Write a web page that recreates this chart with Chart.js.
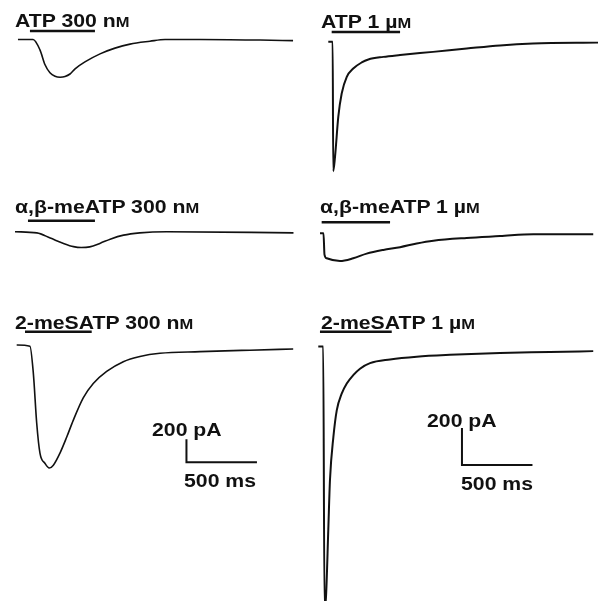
<!DOCTYPE html>
<html>
<head>
<meta charset="utf-8">
<script src="https://cdn.jsdelivr.net/npm/chart.js@4.4.1/dist/chart.umd.min.js"></script>
<style>
  html, body { margin: 0; padding: 0; background: #fff; }
  #wrap { position: relative; width: 600px; height: 601px; overflow: hidden; }
  #traces { position: absolute; left: 0; top: 0; }
  .label {
    position: absolute;
    font-family: "Liberation Sans", Arial, sans-serif;
    font-weight: bold;
    font-size: 18px;
    line-height: 18px;
    color: #111;
    white-space: nowrap;
    transform: scaleX(1.18);
    transform-origin: 0 0;
  }
  .sc { font-size: 14px; }
</style>
</head>
<body>
<div id="wrap">
  <canvas id="traces" width="600" height="601"></canvas>
  <div class="label" style="left:15px;top:11.6px">ATP 300 n<span class="sc">M</span></div>
  <div class="label" style="left:320.7px;top:12.6px">ATP 1 µ<span class="sc">M</span></div>
  <div class="label" style="left:15px;top:197.6px">α,β-meATP 300 n<span class="sc">M</span></div>
  <div class="label" style="left:320px;top:197.6px">α,β-meATP 1 µ<span class="sc">M</span></div>
  <div class="label" style="left:15px;top:314.3px">2-meSATP 300 n<span class="sc">M</span></div>
  <div class="label" style="left:320.7px;top:314.3px">2-meSATP 1 µ<span class="sc">M</span></div>
  <div class="label" style="left:151.7px;top:420.6px">200 pA</div>
  <div class="label" style="left:184px;top:471.6px">500 ms</div>
  <div class="label" style="left:426.7px;top:411.6px">200 pA</div>
  <div class="label" style="left:461px;top:475px">500 ms</div>
</div>
<script>
"use strict"

// ---------- traces: time (ms) and current (pA) ----------
const timeAtp300 = [21, 128, 177, 213, 248, 284, 320, 355, 390, 426, 496, 603, 709, 816, 957, 1064, 1312, 1738, 1972];
const currentAtp300 = [0, 0, -90, -220, -290, -320, -328, -322, -300, -255, -195, -125, -75, -40, -15, 0, 0, -5, -10];

const timeAtp1 = [73, 104, 108, 121, 144, 168, 204, 250, 310, 357, 463, 582, 816, 1055, 1291, 1525, 1986];
const currentAtp1 = [0, 0, -700, -620, -405, -280, -190, -145, -112, -96, -82, -72, -55, -37, -20, -10, -5];

const timeMeAtp300 = [0, 155, 250, 340, 415, 470, 530, 605, 675, 770, 885, 1075, 1975];
const currentMeAtp300 = [0, -10, -55, -100, -130, -138, -132, -100, -65, -30, -10, 0, -10];

const timeMeAtp1 = [14, 39, 46, 62, 156, 250, 345, 463, 582, 700, 818, 1055, 1291, 1527, 1952];
const currentMeAtp1 = [0, 0, -115, -135, -150, -135, -110, -90, -75, -55, -40, -25, -15, -5, -5];

const timeMeSAtp300 = [12, 106, 130, 154, 177, 213, 243, 272, 319, 367, 413, 484, 555, 650, 768, 886, 1028, 1312, 1666, 1973];
const currentMeSAtp300 = [0, -10, -245, -680, -940, -1030, -1070, -1045, -940, -800, -655, -460, -335, -230, -145, -100, -72, -58, -45, -35];

const timeMeSAtp1 = [2, 37, 46, 57, 73, 85, 109, 133, 168, 204, 250, 298, 369, 511, 700, 936, 1291, 1645, 1952];
const currentMeSAtp1 = [0, 0, -1400, -1350, -990, -720, -490, -345, -255, -200, -155, -120, -90, -70, -55, -45, -35, -30, -25];

// agonist application (start, end) in ms
const applyAtp300 = [106, 567];
const applyAtp1 = [97, 582];
const applyMeAtp300 = [92, 567];
const applyMeAtp1 = [26, 511];
const applyMeSAtp300 = [71, 544];
const applyMeSAtp1 = [14, 523];

// calibration bars
const scaleBarTime = 500;    // ms
const scaleBarCurrent = 200; // pA

// ---------- layout ----------
const W = 600, H = 601;
const pxPerMs = 0.141;

const xAxis = (originPx) => ({
  type: "linear", display: false,
  min: -originPx / pxPerMs, max: (W - originPx) / pxPerMs,
});
const yAxis = (basePx, pxPerPA) => ({
  type: "linear", display: false,
  min: -(H - basePx) / pxPerPA, max: basePx / pxPerPA,
});

const panels = [
  { id: "yAtp300", x: "xLeft", time: timeAtp300, current: currentAtp300, apply: applyAtp300, base: 39.5, gain: 0.115, barY: 31, lw: 1.6 },
  { id: "yAtp1", x: "xRight", time: timeAtp1, current: currentAtp1, apply: applyAtp1, base: 41.7, gain: 0.185, barY: 32, lw: 2 },
  { id: "yMeAtp300", x: "xLeft", time: timeMeAtp300, current: currentMeAtp300, apply: applyMeAtp300, base: 231.7, gain: 0.115, barY: 220.7, lw: 1.6 },
  { id: "yMeAtp1", x: "xRight", time: timeMeAtp1, current: currentMeAtp1, apply: applyMeAtp1, base: 233.3, gain: 0.185, barY: 222.3, lw: 2 },
  { id: "yMeSAtp300", x: "xLeft", time: timeMeSAtp300, current: currentMeSAtp300, apply: applyMeSAtp300, base: 345, gain: 0.115, barY: 331.7, lw: 1.6 },
  { id: "yMeSAtp1", x: "xRight", time: timeMeSAtp1, current: currentMeSAtp1, apply: applyMeSAtp1, base: 346.5, gain: 0.185, barY: 331.7, lw: 2 },
];

const scales = { xLeft: xAxis(15), xRight: xAxis(318) };
panels.forEach((p) => { scales[p.id] = yAxis(p.base, p.gain); });

const datasets = panels.map((p) => ({
  data: p.time.map((t, i) => ({ x: t, y: p.current[i] })),
  xAxisID: p.x,
  yAxisID: p.id,
  borderColor: "#111",
  borderWidth: p.lw,
  pointRadius: 0,
  cubicInterpolationMode: "monotone",
  fill: false,
}));

// calibration bars: corner placed under each 2-meSATP trace
const scaleBar = (xId, yId, t0, i0) => ({
  data: [
    { x: t0, y: i0 + scaleBarCurrent },
    { x: t0, y: i0 },
    { x: t0 + scaleBarTime, y: i0 },
  ],
  xAxisID: xId,
  yAxisID: yId,
  borderColor: "#111",
  borderWidth: 2,
  pointRadius: 0,
  tension: 0,
  fill: false,
});
datasets.push(scaleBar("xLeft", "yMeSAtp300", 1216, -1020));
datasets.push(scaleBar("xRight", "yMeSAtp1", 1021, -640));

// drug application bars under the labels
const applicationBars = {
  id: "applicationBars",
  afterDatasetsDraw(chart) {
    const ctx = chart.ctx;
    ctx.save();
    ctx.strokeStyle = "#111";
    ctx.lineWidth = 2.5;
    panels.forEach((p) => {
      const xs = chart.scales[p.x];
      ctx.beginPath();
      ctx.moveTo(xs.getPixelForValue(p.apply[0]), p.barY);
      ctx.lineTo(xs.getPixelForValue(p.apply[1]), p.barY);
      ctx.stroke();
    });
    ctx.restore();
  },
};

new Chart(document.querySelector("#traces"), {
  type: "line",
  data: { datasets },
  options: {
    responsive: false,
    animation: false,
    layout: { padding: 0 },
    scales,
    plugins: {
      legend: { display: false },
      tooltip: { enabled: false },
    },
  },
  plugins: [applicationBars],
});
</script>
</body>
</html>
